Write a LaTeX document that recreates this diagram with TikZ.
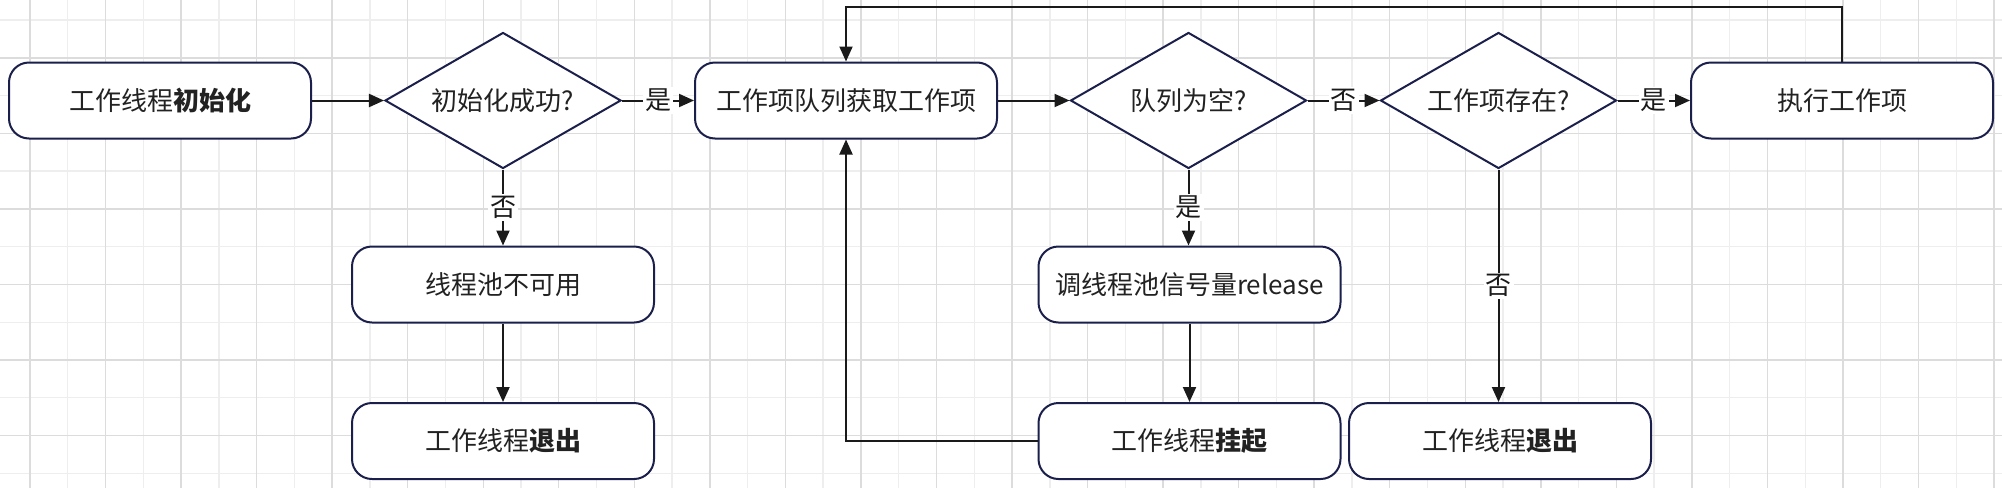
\documentclass[tikz,border=0pt]{standalone}
\usepackage{fontspec}
\setmainfont{Noto Sans CJK SC}
\usetikzlibrary{arrows.meta,shapes.geometric}
\definecolor{navy}{HTML}{1B1F4B}
\definecolor{ink}{HTML}{1A1A1A}
\definecolor{txt}{HTML}{222222}
\definecolor{gridA}{HTML}{DCDCDC}
\definecolor{gridB}{HTML}{EEEEEE}
\begin{document}
\begin{tikzpicture}[x=1pt,y=-1pt,
  box/.style={draw=navy,line width=2pt,rounded corners=20pt,minimum width=302pt,minimum height=76pt,fill=white,font=\fontsize{26}{30}\selectfont,text=txt,inner sep=0pt},
  dia/.style={diamond,draw=navy,line width=2pt,fill=white,minimum width=236pt,minimum height=136pt,aspect=1.735,inner sep=0pt,font=\fontsize{26}{30}\selectfont,text=txt},
  conn/.style={draw=ink,line width=2pt,-{Triangle[length=15pt,width=13pt]}},
  lbl/.style={fill=white,font=\fontsize{26}{30}\selectfont,text=ink,inner sep=2pt},
  gmaj/.style={draw=gridA,line width=1.4pt},
  gmin/.style={draw=gridB,line width=1.4pt}
]
\fill[white] (0,0) rectangle (2002,488);
\useasboundingbox (0,0) rectangle (2002,488);
% grid
\foreach \i in {-1,1,...,51} \draw[gmin] ({30+37.77*\i},0) -- ({30+37.77*\i},488);
\foreach \j in {0,2,...,12} \draw[gmin] (0,{20.07+37.77*\j}) -- (2002,{20.07+37.77*\j});
\foreach \i in {0,2,...,52} \draw[gmaj] ({30+37.77*\i},0) -- ({30+37.77*\i},488);
\foreach \j in {1,3,...,11} \draw[gmaj] (0,{20.07+37.77*\j}) -- (2002,{20.07+37.77*\j});
% nodes
\node[box] (A) at (160,100.5) {工作线程\textbf{初始化}};
\node[dia] (D1) at (503,100.5) {初始化成功?};
\node[box] (B) at (846,100.5) {工作项队列获取工作项};
\node[dia] (D2) at (1188.5,100.5) {队列为空?};
\node[dia] (D3) at (1498.5,100.5) {工作项存在?};
\node[box] (E) at (1842,100.5) {执行工作项};
\node[box] (F) at (503,284.5) {线程池不可用};
\node[box] (G) at (503,441) {工作线程\textbf{退出}};
\node[box] (H) at (1189.5,284.5) {调线程池信号量release};
\node[box] (I) at (1189.5,441) {工作线程\textbf{挂起}};
\node[box] (J) at (1500,441) {工作线程\textbf{退出}};
\coordinate (top) at (1300,6.7);
% connectors
\draw[conn] (A) -- (D1);
\draw[conn] (D1) -- node[lbl] {是} (B);
\draw[conn] (D1) -- node[lbl] {否} (F);
\draw[conn] (F) -- (G);
\draw[conn] (B) -- (D2);
\draw[conn] (D2) -- node[lbl] {否} (D3);
\draw[conn] (D2.south) -- node[lbl] {是} (D2.south |- H.north);
\draw[conn] (D3) -- node[lbl] {是} (E);
\draw[conn] (D3.south) -- node[lbl] {否} (D3.south |- J.north);
\draw[conn] (H) -- (I);
\draw[conn] (E.north) |- (top) -| (B.north);
\draw[conn] (I.west) -| (B.south);
\end{tikzpicture}
\end{document}
